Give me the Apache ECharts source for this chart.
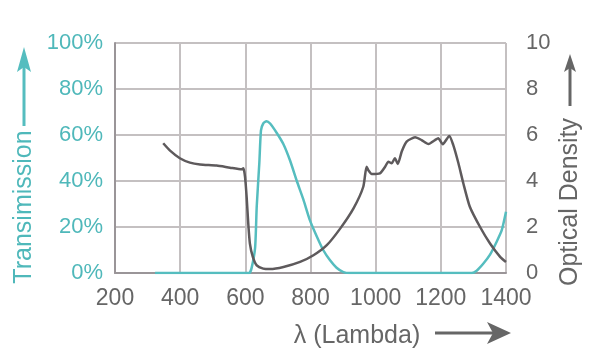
<!DOCTYPE html>
<html><head><meta charset="utf-8">
<script src="https://cdn.jsdelivr.net/npm/echarts@6/dist/echarts.min.js"></script>
<style>html,body{margin:0;padding:0;background:#fff}#c{width:600px;height:360px}</style>
</head><body><div id="c"></div>
<script>
var xTicks = [200, 400, 600, 800, 1000, 1200, 1400];
var transWl = [323, 600, 612, 619, 630, 635, 643, 648, 655, 665, 676, 696, 717, 737, 758, 778, 798, 819, 839, 860, 880, 901, 921, 1295, 1310, 1330, 1351, 1371, 1387, 1400];
var transVal = [0, 0, 0, 2, 11, 29, 48, 62, 65, 66, 65, 61, 56, 49, 40, 32, 23, 16, 10, 5.5, 2.3, 0.4, 0, 0, 1, 4, 8, 13.5, 18.6, 26.6];
var odWl = [348, 369, 399, 430, 461, 512, 553, 589, 594, 599, 604, 609, 614, 623, 635, 655, 676, 717, 768, 809, 850, 891, 932, 962, 972, 977, 988, 1013, 1029, 1039, 1049, 1059, 1068, 1080, 1095, 1121, 1141, 1162, 1182, 1192, 1206, 1226, 1238, 1254, 1269, 1289, 1320, 1351, 1382, 1400];
var odVal = [5.64, 5.32, 4.99, 4.80, 4.72, 4.67, 4.58, 4.51, 4.55, 4.19, 3.31, 2.15, 1.28, 0.70, 0.33, 0.19, 0.17, 0.26, 0.48, 0.77, 1.21, 1.93, 2.81, 3.75, 4.62, 4.48, 4.30, 4.33, 4.62, 4.84, 4.77, 4.99, 4.74, 5.28, 5.71, 5.90, 5.78, 5.61, 5.78, 5.86, 5.60, 5.96, 5.57, 4.77, 3.90, 2.88, 2.01, 1.28, 0.70, 0.48];
var leftTitle = 'Transimission';
var rightTitle = 'Optical Density';
var xTitle = 'λ (Lambda)';

var TEAL = '#55bdbf', TEAL_T = '#4fb8ba', GRAY = '#5e5a5c', GRAY_T = '#666666';
var FONT = 'Liberation Sans, Arial, sans-serif';
function zip(a, b) { return a.map(function (v, i) { return [v, b[i]]; }); }

var chart = echarts.init(document.getElementById('c'), null, {renderer: 'canvas'});
chart.setOption({
  animation: false,
  backgroundColor: '#fff',
  grid: {left: 115, right: 94, top: 43, bottom: 87},
  xAxis: {
    type: 'value', min: xTicks[0], max: xTicks[xTicks.length - 1], interval: 200,
    axisLine: {show: true, lineStyle: {color: '#9a9598', width: 2}},
    axisTick: {show: false},
    splitLine: {show: true, lineStyle: {color: '#c4c0c1', width: 2}},
    axisLabel: {color: GRAY_T, fontSize: 23, fontFamily: FONT, margin: 14, formatter: function (v) { return String(v); }}
  },
  yAxis: [{
    type: 'value', min: 0, max: 100, interval: 20,
    axisLine: {show: true, lineStyle: {color: '#9a9598', width: 2}},
    axisTick: {show: false},
    splitLine: {show: true, lineStyle: {color: '#c4c0c1', width: 2}},
    axisLabel: {color: TEAL_T, fontSize: 22, fontFamily: FONT, margin: 12, formatter: '{value}%'}
  }, {
    type: 'value', min: 0, max: 10, interval: 2, position: 'right',
    axisLine: {show: false}, axisTick: {show: false}, splitLine: {show: false},
    axisLabel: {color: GRAY_T, fontSize: 22, fontFamily: FONT, margin: 20}
  }],
  series: [{
    type: 'line', yAxisIndex: 0, data: zip(transWl, transVal), showSymbol: false, smooth: 0.2,
    lineStyle: {color: TEAL, width: 2.5}, z: 3
  }, {
    type: 'line', yAxisIndex: 1, data: zip(odWl, odVal), showSymbol: false, smooth: 0.2,
    lineStyle: {color: GRAY, width: 2.5}, z: 4
  }],
  graphic: [
    {type: 'text', x: 24, y: 207, rotation: Math.PI / 2,
     style: {text: leftTitle, fill: TEAL_T, font: '25px ' + FONT, textAlign: 'center', textVerticalAlign: 'middle'}},
    {type: 'line', shape: {x1: 24, y1: 126, x2: 24, y2: 62}, style: {stroke: TEAL, lineWidth: 3}},
    {type: 'polygon', shape: {points: [[24, 47], [31, 72], [24, 67], [17, 72]]}, style: {fill: TEAL}},
    {type: 'text', x: 570, y: 202, rotation: Math.PI / 2,
     style: {text: rightTitle, fill: GRAY_T, font: '25px ' + FONT, textAlign: 'center', textVerticalAlign: 'middle'}},
    {type: 'line', shape: {x1: 570, y1: 106, x2: 570, y2: 66}, style: {stroke: GRAY_T, lineWidth: 3}},
    {type: 'polygon', shape: {points: [[570, 54], [576, 72], [570, 68], [564, 72]]}, style: {fill: GRAY_T}},
    {type: 'text', x: 357, y: 336,
     style: {text: xTitle, fill: GRAY_T, font: '25px ' + FONT, textAlign: 'center', textVerticalAlign: 'middle'}},
    {type: 'line', shape: {x1: 435, y1: 333, x2: 495, y2: 333}, style: {stroke: GRAY_T, lineWidth: 3}},
    {type: 'polygon', shape: {points: [[511, 333], [487, 322], [493, 333], [487, 344]]}, style: {fill: GRAY_T}}
  ]
});
</script></body></html>
